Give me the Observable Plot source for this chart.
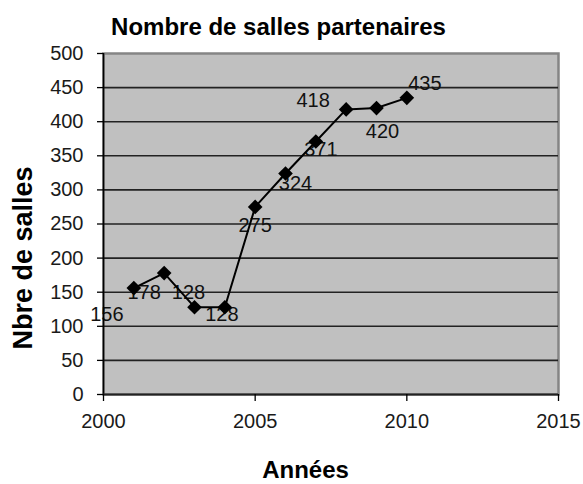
<!DOCTYPE html>
<html>
<head>
<meta charset="utf-8">
<script src="https://cdn.jsdelivr.net/npm/d3@7"></script>
<script src="https://cdn.jsdelivr.net/npm/@observablehq/plot@0.6"></script>
<style>
  html, body { margin: 0; padding: 0; background: #fff; }
  #wrap { width: 583px; }
  #title {
    box-sizing: border-box; width: 583px; height: 30px; padding-top: 15px; padding-right: 26px;
    text-align: center; font: bold 24px "Liberation Sans", Arial, sans-serif; line-height: 24px; color: #000;
    white-space: nowrap;
  }
</style>
</head>
<body>
<div id="wrap">
  <div id="title">Nombre de salles partenaires</div>
  <div id="chart"></div>
</div>
<script>
// ---- data ----
const years = [2001, 2002, 2003, 2004, 2005, 2006, 2007, 2008, 2009, 2010];
const salles = [156, 178, 128, 128, 275, 324, 371, 418, 420, 435];
const yTicks = [0, 50, 100, 150, 200, 250, 300, 350, 400, 450, 500];
const xTicks = [2000, 2005, 2010, 2015];
const gridValues = [50, 100, 150, 200, 250, 300, 350, 400, 450];
const xLabel = "Années";
const yLabel = "Nbre de salles";

// ---- layout: label offsets in pixels (as placed in the original) ----
const labelOffsets = [
  [-27, 26], [-20, 19], [-6, -15], [-3, 7], [0, 19],
  [10, 10], [5, 8], [-33, -9], [6, 24], [18, -14]
];

const rows = years.map((y, i) => ({year: y, value: salles[i]}));

const labelMarks = rows.map((d, i) =>
  Plot.text([d], {x: "year", y: "value", text: d => String(d.value),
    dx: labelOffsets[i][0], dy: labelOffsets[i][1],
    fontSize: 20, fill: "#111", textAnchor: "middle", lineAnchor: "middle"})
);

const chart = Plot.plot({
  width: 583,
  height: 454,
  marginTop: 23,
  marginLeft: 103,
  marginRight: 25,
  marginBottom: 90,
  x: {domain: [2000, 2015]},
  y: {domain: [0, 500]},
  style: {fontFamily: "'Liberation Sans', Arial, sans-serif", fontSize: "20px", color: "#1a1a1a", background: "#fff", overflow: "visible"},
  marks: [
    Plot.frame({fill: "#c0c0c0", stroke: "#858585", strokeWidth: 2.5}),
    Plot.ruleY(gridValues, {stroke: "#222", strokeWidth: 1.6}),
    ...labelMarks,
    Plot.ruleX([2000], {stroke: "#000", strokeWidth: 1.6}),
    Plot.ruleY([0], {stroke: "#222", strokeWidth: 2}),
    // y ticks (marks only) + labels
    Plot.axisY(yTicks, {tickSize: 6, text: null, stroke: "#000", strokeWidth: 1.3, label: null}),
    Plot.text(yTicks, {frameAnchor: "left", y: d => d, text: d => String(d), dx: -20,
      textAnchor: "end", lineAnchor: "middle", fontSize: 20, fill: "#1a1a1a"}),
    // x ticks (marks only) + labels
    Plot.axisX(xTicks, {tickSize: 7, text: null, stroke: "#000", strokeWidth: 1.3, label: null}),
    Plot.text(xTicks, {frameAnchor: "bottom", x: d => d, text: d => String(d), dy: 19,
      textAnchor: "middle", lineAnchor: "top", fontSize: 20, fill: "#1a1a1a"}),
    Plot.line(rows, {x: "year", y: "value", stroke: "#000", strokeWidth: 2}),
    Plot.dot(rows, {x: "year", y: "value", symbol: "diamond2", r: 6.6, fill: "#000", stroke: "none"}),
    Plot.text([yLabel], {frameAnchor: "left", text: d => d, rotate: -90, dx: -80.5, dy: 34,
      fontSize: 27, fontWeight: "bold", fill: "#000", textAnchor: "middle", lineAnchor: "middle"}),
    Plot.text([xLabel], {frameAnchor: "bottom", text: d => d, dx: -25.5, dy: 66,
      fontSize: 24, fontWeight: "bold", fill: "#000", textAnchor: "middle", lineAnchor: "top"})
  ]
});
document.getElementById("chart").appendChild(chart);
</script>
</body>
</html>
